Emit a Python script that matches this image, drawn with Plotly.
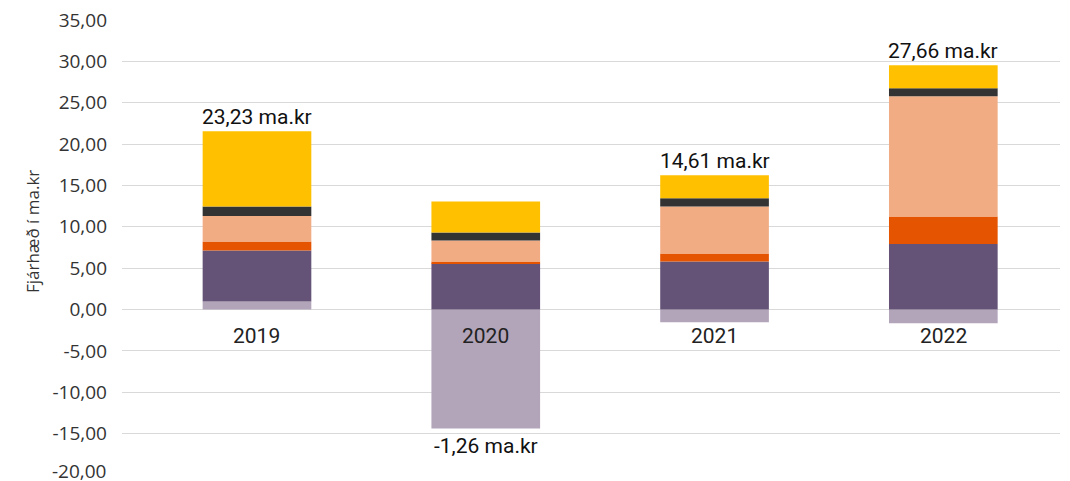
import plotly.graph_objects as go

years = ["2019", "2020", "2021", "2022"]
s_lightgray = [0.97, -14.37, -1.53, -1.65]
s_purple = [6.17, 5.57, 5.81, 7.91]
s_orange = [1.09, 0.24, 0.97, 3.35]
s_salmon = [3.07, 2.54, 5.69, 14.53]
s_dark = [1.17, 0.97, 0.97, 0.97]
s_yellow = [9.08, 3.75, 2.78, 2.78]
total_labels = ["23,23 ma.kr", "-1,26 ma.kr", "14,61 ma.kr", "27,66 ma.kr"]
label_y = [21.55, -14.37, 16.22, 29.54]
label_side = [1, -1, 1, 1]
y_ticks = [-20, -15, -10, -5, 0, 5, 10, 15, 20, 25, 30, 35]
y_ticktext = ["-20,00", "-15,00", "-10,00", "-5,00", "0,00", "5,00", "10,00",
              "15,00", "20,00", "25,00", "30,00", "35,00"]

series = [
    (s_lightgray, "#b2a5ba"),
    (s_purple, "#655277"),
    (s_orange, "#e55400"),
    (s_salmon, "#f2ac84"),
    (s_dark, "#333333"),
    (s_yellow, "#ffc000"),
]

fig = go.Figure()
for vals, col in series:
    fig.add_trace(go.Bar(x=years, y=vals, marker=dict(color=col, line=dict(width=0)),
                         width=0.475, hoverinfo="skip"))

font_main = "Open Sans, Lato, sans-serif"
font_lbl = "Roboto, sans-serif"
tick_font = dict(size=19, color="#333333", family=font_main)

for i, (yr, txt, yv, side) in enumerate(zip(years, total_labels, label_y, label_side)):
    fig.add_annotation(x=i, y=yv, text=txt, showarrow=False, xref="x", yref="y",
                       yanchor="bottom" if side > 0 else "top",
                       yshift=0 if side > 0 else -4,
                       font=dict(size=21, color="#111111", family=font_lbl))
    fig.add_annotation(x=i, y=0, text=yr, showarrow=False, xref="x", yref="y",
                       yanchor="top", yshift=-12,
                       font=dict(size=21, color="#222222", family=font_lbl))

# lowest tick label (plotly would hide it since it runs past the page edge)
fig.add_annotation(x=0, y=y_ticks[0], xref="paper", yref="y", text=y_ticktext[0],
                   showarrow=False, xanchor="right", yanchor="middle", xshift=-13, yshift=4,
                   font=tick_font)

fig.add_annotation(x=-0.096, y=0.536, xref="paper", yref="paper", text="Fjárhæð í ma.kr",
                   textangle=-90, showarrow=False, xanchor="center", yanchor="middle",
                   font=dict(size=17, color="#333333", family=font_main))

fig.update_layout(
    barmode="relative",
    width=1070, height=481,
    margin=dict(l=122, r=10, t=20, b=6),
    plot_bgcolor="white", paper_bgcolor="white",
    showlegend=False,
    font=dict(family=font_main, color="#333333"),
    xaxis=dict(type="category", range=[-0.59, 3.51], showticklabels=False, showgrid=False,
               zeroline=False, showline=False, ticks=""),
    yaxis=dict(range=[-20, 35], tickvals=y_ticks, ticktext=y_ticktext,
               showgrid=True, gridcolor="#d9d9d9", gridwidth=1,
               zeroline=True, zerolinecolor="#d9d9d9", zerolinewidth=1,
               showline=False, ticks="", ticklabelstandoff=14,
               tickfont=tick_font),
)

post = (
    "document.body.style.margin='0';"
    "document.body.style.overflow='hidden';"
)

fig.write_html("out.html", config={"displayModeBar": False}, post_script=post)
